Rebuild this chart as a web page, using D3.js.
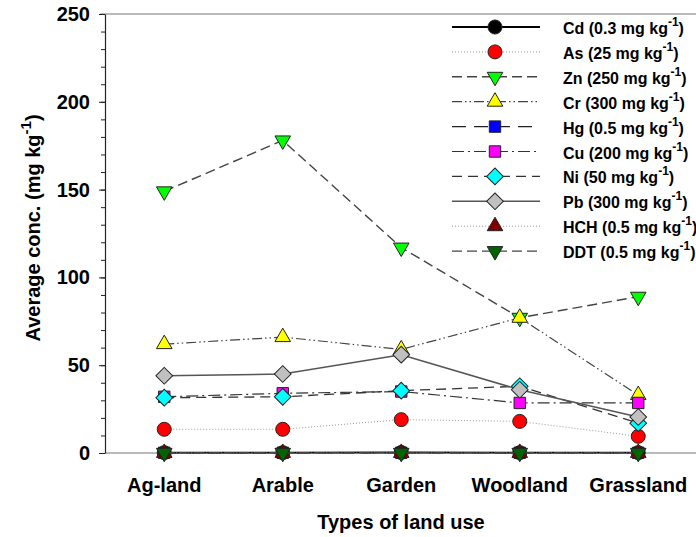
<html>
<body style="margin:0;background:#fff">
<script src="https://cdn.jsdelivr.net/npm/d3@7"></script>
<svg width="696" height="537"></svg>
<script>
// land use categories and average concentrations (mg/kg)
var categories = ["Ag-land", "Arable", "Garden", "Woodland", "Grassland"];
var Cd  = [0.2, 0.2, 0.3, 0.2, 0.2];
var As  = [13.5, 13.5, 19, 18, 9.5];
var Zn  = [149, 178, 117, 77, 89];
var Cr  = [62, 66, 59, 77, 33];
var Hg  = [0.1, 0.1, 0.1, 0.1, 0.1];
var Cu  = [32, 34, 35, 28.5, 28.5];
var Ni  = [31.5, 32, 35.5, 38, 17];
var Pb  = [44, 45, 56, 36, 20.5];
var HCH = [0.05, 0.05, 0.05, 0.05, 0.05];
var DDT = [0.1, 0.1, 0.1, 0.1, 0.1];
var yTicks = [0, 50, 100, 150, 200, 250];

var series = [
    {name: "Cd", limit: "0.3", values: Cd, shape: "circle", fill: "#000000", color: "#000", dash: null, w: 1.8},
    {name: "As", limit: "25", values: As, shape: "circle", fill: "#ff0000", color: "#999", dash: "1,2", w: 1},
    {name: "Zn", limit: "250", values: Zn, shape: "down", fill: "#00ff00", color: "#444", dash: "10,5", w: 1.4},
    {name: "Cr", limit: "300", values: Cr, shape: "up", fill: "#ffff00", color: "#444", dash: "10,3,1.5,3,1.5,3", w: 1.2},
    {name: "Hg", limit: "0.5", values: Hg, shape: "square", fill: "#0000ff", color: "#222", dash: "14,8", w: 1.4},
    {name: "Cu", limit: "200", values: Cu, shape: "square", fill: "#ff00ff", color: "#333", dash: "12,4,2,4", w: 1.2},
    {name: "Ni", limit: "50", values: Ni, shape: "diamond", fill: "#00ffff", color: "#333", dash: "10,6", w: 1.3},
    {name: "Pb", limit: "300", values: Pb, shape: "diamond", fill: "#c0c0c0", color: "#555", dash: null, w: 1.5},
    {name: "HCH", limit: "0.5", values: HCH, shape: "up", fill: "#800000", color: "#999", dash: "1,2", w: 1},
    {name: "DDT", limit: "0.5", values: DDT, shape: "down", fill: "#006400", color: "#444", dash: "10,5", w: 1.4}
];

var svg = d3.select("svg");
var font = "'Liberation Sans', Arial, sans-serif";

var x = d3.scalePoint().domain(categories).range([105, 697.5]).padding(0.5);
var y = d3.scaleLinear().domain([0, 250]).range([453, 14]);

// frame lines
svg.append("line").attr("x1", 100).attr("x2", 696).attr("y1", 14).attr("y2", 14)
    .style("stroke", "#777").style("stroke-width", 1.2);
svg.append("line").attr("x1", 105).attr("x2", 696).attr("y1", 453).attr("y2", 453)
    .style("stroke", "#777").style("stroke-width", 1.2);

// y axis with minor ticks
var minor = svg.append("g").attr("transform", "translate(105,0)")
    .call(d3.axisLeft(y).tickValues(d3.range(0, 251, 10)).tickSize(4).tickFormat(""));
minor.select(".domain").remove();
var yAxis = svg.append("g").attr("transform", "translate(105,0)")
    .call(d3.axisLeft(y).tickValues(yTicks).tickSize(6).tickSizeOuter(0).tickPadding(9));
svg.selectAll(".tick line").style("stroke", "#222");
yAxis.select(".domain").style("stroke", "#222").style("stroke-width", 1.2);
yAxis.selectAll("text").style("font-family", font).style("font-size", "20px")
    .style("font-weight", "bold").style("fill", "#000");

// category labels
svg.selectAll(".cat").data(categories).enter().append("text")
    .attr("x", function(d) { return x(d); })
    .attr("y", 492)
    .attr("text-anchor", "middle")
    .style("font-family", font).style("font-size", "20px").style("font-weight", "bold")
    .text(function(d) { return d; });

svg.append("text").attr("x", 401).attr("y", 529).attr("text-anchor", "middle")
    .style("font-family", font).style("font-size", "20px").style("font-weight", "bold")
    .text("Types of land use");

var yt = svg.append("text").attr("transform", "translate(40,228) rotate(-90)")
    .attr("text-anchor", "middle")
    .style("font-family", font).style("font-size", "20px").style("font-weight", "bold");
yt.append("tspan").text("Average conc. (mg kg");
yt.append("tspan").attr("dy", -9).style("font-size", "15px").text("-1");
yt.append("tspan").attr("dy", 9).text(")");

function symbolPath(shape) {
    if (shape == "circle") return d3.symbol().type(d3.symbolCircle).size(154)();
    if (shape == "up" || shape == "down") return d3.symbol().type(d3.symbolTriangle).size(105)();
    return d3.symbol().type(d3.symbolSquare).size(shape == "diamond" ? 140 : 130)();
}
function symbolTransform(shape, px, py) {
    var t = "translate(" + px + "," + py + ")";
    if (shape == "down") t += " rotate(180)";
    if (shape == "diamond") t += " rotate(45)";
    return t;
}

var line = d3.line()
    .x(function(d, i) { return x(categories[i]); })
    .y(function(d) { return y(d); });

series.forEach(function(s) {
    svg.append("path").datum(s.values)
        .attr("d", line)
        .style("fill", "none")
        .style("stroke", s.color)
        .style("stroke-width", s.w)
        .style("stroke-dasharray", s.dash);
    svg.selectAll(null).data(s.values).enter().append("path")
        .attr("d", symbolPath(s.shape))
        .attr("transform", function(d, i) { return symbolTransform(s.shape, x(categories[i]), y(d)); })
        .style("fill", s.fill)
        .style("stroke", "#222")
        .style("stroke-width", 1);
});

// legend
var leg = svg.append("g");
series.forEach(function(s, i) {
    var ly = 27 + i * 24.9;
    leg.append("line").attr("x1", 452).attr("x2", 540).attr("y1", ly).attr("y2", ly)
        .style("stroke", s.color).style("stroke-width", s.w).style("stroke-dasharray", s.dash);
    leg.append("path").attr("d", symbolPath(s.shape))
        .attr("transform", symbolTransform(s.shape, 495, ly))
        .style("fill", s.fill).style("stroke", "#222").style("stroke-width", 1);
    var t = leg.append("text").attr("x", 563).attr("y", ly + 7)
        .style("font-family", font).style("font-size", "16px").style("font-weight", "bold");
    t.append("tspan").text(s.name + " (" + s.limit + " mg kg");
    t.append("tspan").attr("dy", -8).style("font-size", "12px").text("-1");
    t.append("tspan").attr("dy", 8).text(")");
});
</script>
</body>
</html>
